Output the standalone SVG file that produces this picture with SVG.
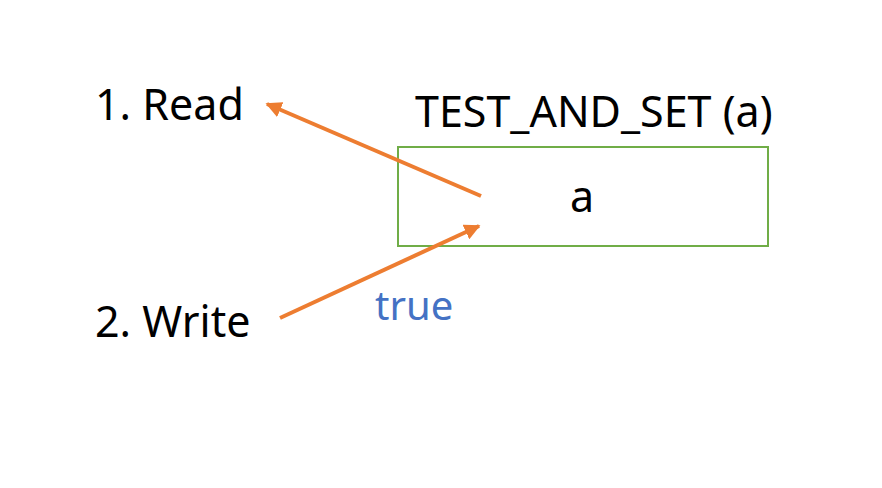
<svg xmlns="http://www.w3.org/2000/svg" width="882" height="488" viewBox="0 0 882 488">
<style>
text{font-family:"Noto Sans","Open Sans",sans-serif;font-size:43px;fill:#000}
.blue{fill:#4472C4;font-size:40px}
.conn{stroke:#ED7D31;stroke-width:4;fill:none}
</style>
<defs>
<marker id="ah" viewBox="0 0 10 10" refX="9" refY="5" markerWidth="4" markerHeight="4" orient="auto" markerUnits="strokeWidth">
<path d="M0,0 L10,5 L0,10 z" fill="#ED7D31"/>
</marker>
</defs>
<rect width="882" height="488" fill="#fff"/>
<g id="read"><text x="95" y="120">1. Read</text></g>
<g id="write"><text x="95" y="337">2. Write</text></g>
<g id="tas">
<text x="415" y="127">TEST_AND_SET (a)</text>
<rect x="398" y="147" width="370" height="99" fill="none" stroke="#70AD47" stroke-width="2"/>
<text x="582" y="212" text-anchor="middle">a</text>
</g>
<g id="true"><text class="blue" x="375" y="320">true</text></g>
<g id="connectors">
<line class="conn" x1="481" y1="196" x2="267" y2="104" marker-end="url(#ah)"/>
<line class="conn" x1="280" y1="318" x2="479" y2="226" marker-end="url(#ah)"/>
</g>
</svg>
